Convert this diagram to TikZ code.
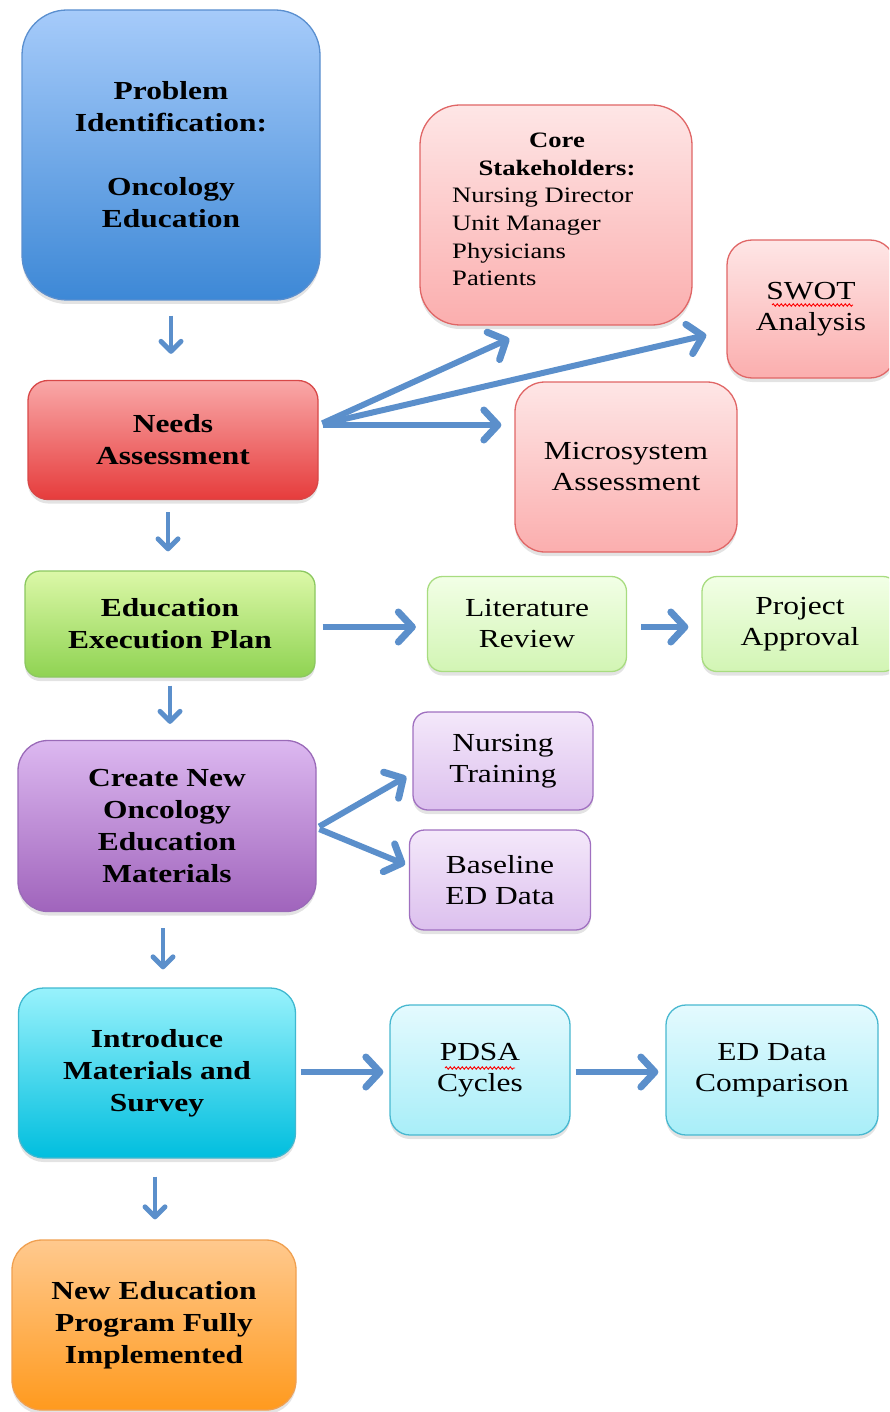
\documentclass[tikz,border=0pt]{standalone}
\usepackage{fontspec}
\setmainfont{Liberation Serif}[FakeStretch=1.21]
\usetikzlibrary{arrows.meta,shadows,decorations.pathmorphing}
\definecolor{arrowblue}{HTML}{5B8FCB}
\definecolor{blueD}{HTML}{5A8FCF}\definecolor{blueT}{HTML}{A6CBFA}\definecolor{blueB}{HTML}{3D88D6}
\definecolor{redD}{HTML}{D84848}\definecolor{redT}{HTML}{F9A8A8}\definecolor{redB}{HTML}{E63C3C}
\definecolor{pinkD}{HTML}{E06666}\definecolor{pinkT}{HTML}{FEE6E6}\definecolor{pinkB}{HTML}{FBAEAE}
\definecolor{greenD}{HTML}{8CC860}\definecolor{greenT}{HTML}{DCF8A8}\definecolor{greenB}{HTML}{8FD352}
\definecolor{lgreenD}{HTML}{A8DC80}\definecolor{lgreenT}{HTML}{F2FFE6}\definecolor{lgreenB}{HTML}{D2F5B4}
\definecolor{purpleD}{HTML}{9A6AB8}\definecolor{purpleT}{HTML}{DCB8F0}\definecolor{purpleB}{HTML}{A064BC}
\definecolor{lpurpleD}{HTML}{A070C0}\definecolor{lpurpleT}{HTML}{F4E8FA}\definecolor{lpurpleB}{HTML}{DCC0EE}
\definecolor{cyanD}{HTML}{40B8D0}\definecolor{cyanT}{HTML}{98F2FC}\definecolor{cyanB}{HTML}{00BEDE}
\definecolor{lcyanD}{HTML}{48B8D0}\definecolor{lcyanT}{HTML}{E4FAFE}\definecolor{lcyanB}{HTML}{A8EEF8}
\definecolor{orangeD}{HTML}{F0A050}\definecolor{orangeT}{HTML}{FFC98E}\definecolor{orangeB}{HTML}{FF9A1E}
\begin{document}
\begin{tikzpicture}[x=1pt,y=-1pt,
  box/.style={draw, line width=1.3pt, align=center, inner sep=0pt,
    drop shadow={shadow xshift=0pt,shadow yshift=-4pt,opacity=0.22}},
  mainbox/.style={box, font=\bfseries\fontsize{26}{32}\selectfont},
  subbox/.style={box, font=\fontsize{26}{31}\selectfont},
  bluebox/.style={mainbox, draw=blueD, top color=blueT, bottom color=blueB},
  redbox/.style={mainbox, draw=redD, top color=redT, bottom color=redB},
  pinkbox/.style={subbox, draw=pinkD, top color=pinkT, bottom color=pinkB},
  greenbox/.style={mainbox, draw=greenD, top color=greenT, bottom color=greenB},
  lgreenbox/.style={subbox, draw=lgreenD, top color=lgreenT, bottom color=lgreenB},
  purplebox/.style={mainbox, draw=purpleD, top color=purpleT, bottom color=purpleB},
  lpurplebox/.style={subbox, draw=lpurpleD, top color=lpurpleT, bottom color=lpurpleB},
  cyanbox/.style={mainbox, draw=cyanD, top color=cyanT, bottom color=cyanB},
  lcyanbox/.style={subbox, draw=lcyanD, top color=lcyanT, bottom color=lcyanB},
  orangebox/.style={mainbox, draw=orangeD, top color=orangeT, bottom color=orangeB},
  varrow/.style={draw=arrowblue, line width=4pt, -{Straight Barb[length=10pt,width=20pt,line width=5pt,round]}},
  harrow/.style={draw=arrowblue, line width=6pt, -{Straight Barb[length=14pt,width=30pt,line width=7pt,round]}},
  wavy/.style={draw=red, line width=0.9pt, decorate, decoration={snake, amplitude=1.2pt, segment length=4pt}},
]
\useasboundingbox (0,0) rectangle (889,1412);
\clip (0,0) rectangle (889,1412);

% main column
\node[bluebox, minimum width=298pt, minimum height=290pt, rounded corners=45pt] (prob) at (171,155)
  {Problem\\Identification:\\[32pt]Oncology\\Education};
\node[redbox, minimum width=290pt, minimum height=119pt, rounded corners=20pt] (needs) at (173,440)
  {Needs\\Assessment};
\node[greenbox, minimum width=290pt, minimum height=106pt, rounded corners=15pt] (eep) at (170,624)
  {Education\\Execution Plan};
\node[purplebox, minimum width=298pt, minimum height=171pt, rounded corners=30pt] (create) at (167,826)
  {Create New\\Oncology\\Education\\Materials};
\node[cyanbox, minimum width=277pt, minimum height=170pt, rounded corners=25pt] (intro) at (157,1073)
  {Introduce\\Materials and\\Survey};
\node[orangebox, minimum width=284pt, minimum height=170pt, rounded corners=30pt] (newed) at (154,1325)
  {New Education\\Program Fully\\Implemented};

% side boxes
\node[pinkbox, minimum width=272pt, minimum height=220pt, rounded corners=40pt] (core) at (556,215) {};
\node[font=\bfseries\fontsize{22}{28}\selectfont, align=center, inner sep=0pt] (coretitle) at (557,154) {Core\\Stakeholders:};
\node[font=\fontsize{22}{27.7}\selectfont, align=left, anchor=west, inner sep=0pt] (corelist) at (452,237)
  {Nursing Director\\Unit Manager\\Physicians\\Patients};
\node[pinkbox, minimum width=168pt, minimum height=138pt, rounded corners=25pt] (swot) at (811,309)
  {SWOT\\Analysis};
\node[pinkbox, minimum width=222pt, minimum height=170pt, rounded corners=30pt] (micro) at (626,467)
  {Microsystem\\Assessment};
\node[lgreenbox, minimum width=199pt, minimum height=95pt, rounded corners=15pt] (lit) at (527,624)
  {Literature\\Review};
\node[lgreenbox, minimum width=196pt, minimum height=95pt, rounded corners=15pt] (proj) at (800,624)
  {Project\\Approval};
\node[lpurplebox, minimum width=180pt, minimum height=98pt, rounded corners=15pt] (nursing) at (503,761)
  {Nursing\\Training};
\node[lpurplebox, minimum width=181pt, minimum height=100pt, rounded corners=15pt] (baseline) at (500,880)
  {Baseline\\ED Data};
\node[lcyanbox, minimum width=180pt, minimum height=130pt, rounded corners=20pt] (pdsa) at (480,1070)
  {PDSA\\Cycles};
\node[lcyanbox, minimum width=212pt, minimum height=130pt, rounded corners=20pt] (edcomp) at (772,1070)
  {ED Data\\Comparison};

% spelling underlines
\draw[wavy] ([shift={(-39,-4)}]swot.center) -- ([shift={(42,-4)}]swot.center);
\draw[wavy] ([shift={(-35,-2)}]pdsa.center) -- ([shift={(35,-2)}]pdsa.center);

% helper coordinates
\coordinate (v1) at (prob.south);
\coordinate (v2) at ([xshift=-5pt]needs.south);
\coordinate (v3) at (eep.south);
\coordinate (v4) at ([xshift=-4pt]create.south);
\coordinate (v5) at ([xshift=-2pt]intro.south);
\coordinate (nstart) at ([yshift=15pt]needs.east);
\coordinate (h1) at ([yshift=-3pt]eep.east);
\coordinate (h2) at ([yshift=-3pt]lit.east);
\coordinate (h3) at ([yshift=1pt]intro.east);
\coordinate (h4) at ([yshift=-2pt]pdsa.east);
\coordinate (cstart) at ([yshift=-2pt]create.east);

% vertical arrows
\draw[varrow, shorten <=15pt, shorten >=26pt] (v1) -- (v1 |- needs.north);
\draw[varrow, shorten <=12pt, shorten >=19pt] (v2) -- (v2 |- eep.north);
\draw[varrow, shorten <=8pt, shorten >=16pt] (v3) -- (v3 |- create.north);
\draw[varrow, shorten <=16pt, shorten >=18pt] (v4) -- (v4 |- intro.north);
\draw[varrow, shorten <=18pt, shorten >=20pt] (v5) -- (v5 |- newed.north);

% horizontal / diagonal arrows
\draw[harrow, shorten <=4pt] (nstart) -- ([shift={(90,13)}]core.south west);
\draw[harrow, shorten <=4pt] (nstart) -- ([shift={(-20,26)}]swot.west);
\draw[harrow, shorten <=4pt, shorten >=13pt] (nstart) -- (nstart -| micro.west);
\draw[harrow, shorten <=7pt, shorten >=11pt] (h1) -- (h1 -| lit.west);
\draw[harrow, shorten <=14pt, shorten >=13pt] (h2) -- (h2 -| proj.west);
\draw[harrow, shorten <=3pt, shorten >=7pt] (cstart) -- ([yshift=-12pt]nursing.west);
\draw[harrow, shorten <=3pt, shorten >=4pt] (cstart) -- ([yshift=14pt]baseline.west);
\draw[harrow, shorten <=5pt, shorten >=6pt] (h3) -- (h3 -| pdsa.west);
\draw[harrow, shorten <=5pt, shorten >=7pt] (h4) -- (h4 -| edcomp.west);
\end{tikzpicture}
\end{document}
